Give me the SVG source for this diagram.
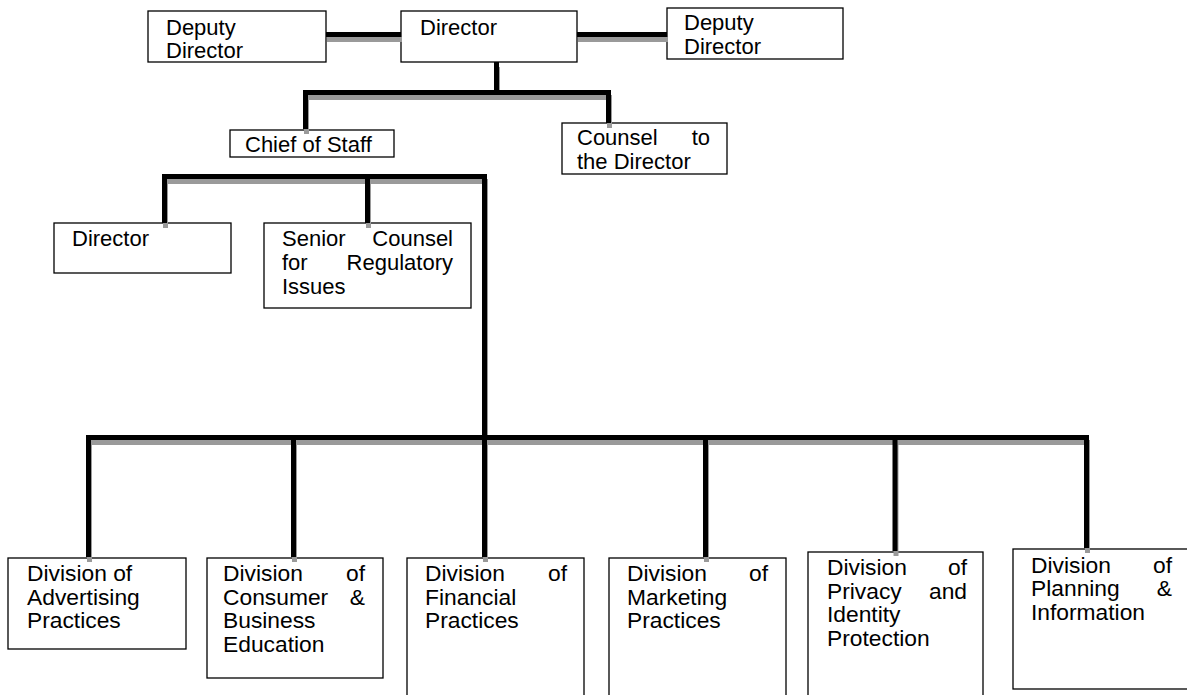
<svg xmlns="http://www.w3.org/2000/svg" xmlns:xlink="http://www.w3.org/1999/xlink" width="1187" height="695" viewBox="0 0 1187 695">
<style>
  .box { fill: #ffffff; stroke: #000000; stroke-width: 1.3; }
  text { font-family: "Liberation Sans", Arial, Helvetica, sans-serif; font-size: 22px; fill: #000000; }
  .div text { font-size: 22.8px; }
  .r { text-anchor: end; }
  .ln { fill: none; stroke: #000000; stroke-width: 5; stroke-linejoin: miter; stroke-linecap: butt; }
  .sh { fill: none; stroke: #9a9a9a; stroke-width: 5; stroke-linejoin: miter; stroke-linecap: butt; }
</style>
<defs>
  <path id="c1" d="M326,34.5 H401"/>
  <path id="c2" d="M577,34.5 H667"/>
  <path id="c3" d="M305.5,129 V92.5 H608.5 V123"/>
  <path id="c4" d="M496.5,62 V92.5"/>
  <path id="c5" d="M164.5,223 V176.5 H484.5 V557"/>
  <path id="c6" d="M367.5,176.5 V223"/>
  <path id="c7" d="M88.5,557 V437.5 H1086.5 V548"/>
  <path id="c8" d="M293.5,437.5 V557"/>
  <path id="c9" d="M705.5,437.5 V557"/>
  <path id="c10" d="M895,437.5 V551"/>
</defs>
<rect x="0" y="0" width="1187" height="695" fill="#ffffff"/>

<g id="deputy-director-left">
  <rect class="box" x="148" y="11" width="178" height="51"/>
  <text x="166" y="34.5">Deputy</text>
  <text x="166" y="58">Director</text>
</g>
<g id="director-top">
  <rect class="box" x="401" y="11" width="176" height="51"/>
  <text x="420" y="34.5">Director</text>
</g>
<g id="deputy-director-right">
  <rect class="box" x="667" y="8" width="176" height="51"/>
  <text x="684" y="30">Deputy</text>
  <text x="684" y="54">Director</text>
</g>
<g id="chief-of-staff">
  <rect class="box" x="230" y="130" width="164" height="27"/>
  <text x="245" y="151.5">Chief of Staff</text>
</g>
<g id="counsel-to-director">
  <rect class="box" x="562" y="123" width="165" height="51"/>
  <text x="577" y="145">Counsel</text>
  <text class="r" x="710" y="145">to</text>
  <text x="577" y="169">the Director</text>
</g>
<g id="director-second">
  <rect class="box" x="54" y="223" width="177" height="50"/>
  <text x="72" y="246">Director</text>
</g>
<g id="senior-counsel">
  <rect class="box" x="264" y="223" width="207" height="85"/>
  <text x="282" y="246">Senior</text>
  <text class="r" x="453" y="246">Counsel</text>
  <text x="282" y="270">for</text>
  <text class="r" x="453" y="270">Regulatory</text>
  <text x="282" y="293.5">Issues</text>
</g>

<g id="div-advertising" class="div">
  <rect class="box" x="8" y="558" width="178" height="91"/>
  <text x="27" y="581">Division of</text>
  <text x="27" y="604.5">Advertising</text>
  <text x="27" y="628">Practices</text>
</g>
<g id="div-consumer" class="div">
  <rect class="box" x="207" y="558" width="176" height="120"/>
  <text x="223" y="581">Division</text>
  <text class="r" x="365" y="581">of</text>
  <text x="223" y="604.5">Consumer</text>
  <text class="r" x="365" y="604.5">&amp;</text>
  <text x="223" y="628">Business</text>
  <text x="223" y="651.5">Education</text>
</g>
<g id="div-financial" class="div">
  <rect class="box" x="407" y="558" width="177" height="145"/>
  <text x="425" y="581">Division</text>
  <text class="r" x="567" y="581">of</text>
  <text x="425" y="604.5">Financial</text>
  <text x="425" y="628">Practices</text>
</g>
<g id="div-marketing" class="div">
  <rect class="box" x="609" y="558" width="177" height="145"/>
  <text x="627" y="581">Division</text>
  <text class="r" x="768" y="581">of</text>
  <text x="627" y="604.5">Marketing</text>
  <text x="627" y="628">Practices</text>
</g>
<g id="div-privacy" class="div">
  <rect class="box" x="808" y="552" width="175" height="150"/>
  <text x="827" y="575">Division</text>
  <text class="r" x="967" y="575">of</text>
  <text x="827" y="598.5">Privacy</text>
  <text class="r" x="967" y="598.5">and</text>
  <text x="827" y="622">Identity</text>
  <text x="827" y="645.5">Protection</text>
</g>
<g id="div-planning" class="div">
  <rect class="box" x="1013" y="549" width="180" height="140"/>
  <text x="1031" y="572.5">Division</text>
  <text class="r" x="1172" y="572.5">of</text>
  <text x="1031" y="596">Planning</text>
  <text class="r" x="1172" y="596">&amp;</text>
  <text x="1031" y="619.5">Information</text>
</g>

<g id="connectors">
  <g class="sh" transform="translate(1,5)">
    <use xlink:href="#c1"/><use xlink:href="#c2"/><use xlink:href="#c3"/><use xlink:href="#c4"/><use xlink:href="#c5"/>
    <use xlink:href="#c6"/><use xlink:href="#c7"/><use xlink:href="#c8"/><use xlink:href="#c9"/><use xlink:href="#c10"/>
  </g>
  <g class="ln">
    <use xlink:href="#c1"/><use xlink:href="#c2"/><use xlink:href="#c3"/><use xlink:href="#c4"/><use xlink:href="#c5"/>
    <use xlink:href="#c6"/><use xlink:href="#c7"/><use xlink:href="#c8"/><use xlink:href="#c9"/><use xlink:href="#c10"/>
  </g>
</g>
</svg>
